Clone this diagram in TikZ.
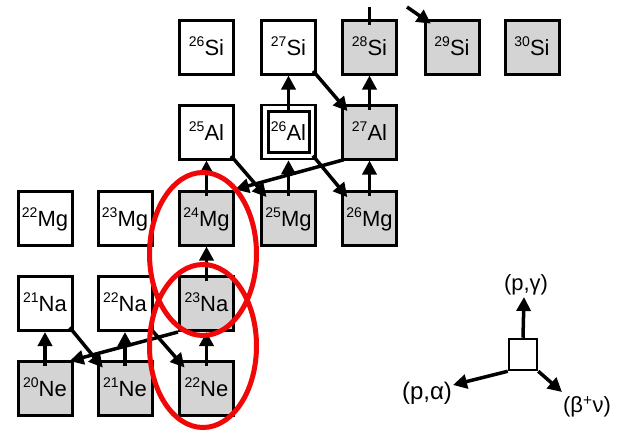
\documentclass[tikz,border=0pt]{standalone}
\usepackage{fontspec}
\setmainfont{Liberation Sans}
\usetikzlibrary{arrows.meta}
\definecolor{boxgray}{RGB}{212,212,212}
\definecolor{ringred}{RGB}{240,8,8}
% mass number as a raised prefix, then the element symbol
\newcommand{\iso}[2]{\raisebox{9pt}{\fontsize{14}{14}\selectfont #1}#2}
\begin{document}
\begin{tikzpicture}[x=1pt,y=-1pt,
  nuc/.style={draw=black, line width=3pt, minimum width=54pt, minimum height=54pt,
    inner sep=0pt, font=\fontsize{22}{22}\selectfont, text height=16pt, text depth=0pt},
  stable/.style={nuc, fill=boxgray},
  unstable/.style={nuc, fill=white},
  rx/.style={line width=3.5pt, -{Triangle[length=14pt,width=14pt]}},
  upr/.style={rx, shorten <=-6pt},
  betar/.style={rx, shorten <=-6pt, shorten >=-10pt},
  ring/.style={draw=ringred, line width=5pt},
  lbl/.style={font=\fontsize{22}{22}\selectfont, inner sep=0pt}
]
\useasboundingbox[fill=white] (0,0) rectangle (625,434);

% ---- Ne row
\node[stable]   (ne20) at (45,388.5)    {\iso{20}{Ne}};
\node[stable]   (ne21) at (125,388.5)   {\iso{21}{Ne}};
\node[stable]   (ne22) at (206.5,388.5) {\iso{22}{Ne}};
% ---- Na row
\node[unstable] (na21) at (45,303.5)    {\iso{21}{Na}};
\node[unstable] (na22) at (125,303.5)   {\iso{22}{Na}};
\node[stable]   (na23) at (206.5,303.5) {\iso{23}{Na}};
% ---- Mg row
\node[unstable] (mg22) at (45,218)      {\iso{22}{Mg}};
\node[unstable] (mg23) at (125,218)     {\iso{23}{Mg}};
\node[stable]   (mg24) at (206.5,218)   {\iso{24}{Mg}};
\node[stable]   (mg25) at (288.5,218)   {\iso{25}{Mg}};
\node[stable]   (mg26) at (369.5,218)   {\iso{26}{Mg}};
% ---- Al row
\node[unstable] (al25) at (206.5,132)   {\iso{25}{Al}};
\node[unstable, line width=2.5pt] (al26) at (288.5,132) {};
\draw[line width=3pt, fill=white] (al26.center) ++(-20.5,-20.5) rectangle ++(41,41);
\node[inner sep=0pt, font=\fontsize{22}{22}\selectfont, text height=16pt, text depth=0pt]
  (al26t) at (al26.center) {\iso{26}{Al}};
\node[stable]   (al27) at (369.5,132)   {\iso{27}{Al}};
% ---- Si row
\node[unstable] (si26) at (206.5,47)    {\iso{26}{Si}};
\node[unstable] (si27) at (288.5,47)    {\iso{27}{Si}};
\node[stable]   (si28) at (369.5,47)    {\iso{28}{Si}};
\node[stable]   (si29) at (452,47)      {\iso{29}{Si}};
\node[stable]   (si30) at (532,47)      {\iso{30}{Si}};

% ---- (p,gamma) captures
\draw[upr] (ne20.north) -- (na21.south);
\draw[upr] (ne21.north) -- (na22.south);
\draw[upr] (ne22.north) -- (na23.south);
\draw[upr] (na23.north) -- (mg24.south);
\draw[upr] (mg24.north) -- (al25.south);
\draw[upr] (mg25.north) -- (al26.south);
\draw[upr] (mg26.north) -- (al27.south);
\draw[upr] (al26.north) -- (si27.south);
\draw[upr] (al27.north) -- (si28.south);
% ---- beta+ decays
\draw[betar] (na21.south east) -- (ne21.north west);
\draw[betar] (na22.south east) -- (ne22.north west);
\draw[betar] (al25.south east) -- (mg25.north west);
\draw[betar] (al26.south east) -- (mg26.north west);
\draw[betar] (si27.south east) -- (al27.north west);
% ---- (p,alpha) cycling back
\draw[rx, shorten >=-4pt] (na23.south west) -- (ne20.north east);
\draw[rx, shorten <=-3pt] (al27.south west) -- (mg24.north east);
% ---- flow leaving and entering from above
\coordinate (topout) at (369.5,7);
\coordinate (topin)  at (407,7);
\draw[line width=3.5pt, shorten <=-6pt] (si28.north) -- (topout);
\draw[rx, shorten >=-9pt] (topin) -- (si29.north west);

% ---- key
\node[draw=black, line width=2.5pt, fill=white, minimum width=28pt, minimum height=31pt]
  (key) at (523,354.5) {};
\coordinate (kpg) at (524,297);
\coordinate (kpa) at (453,385);
\coordinate (kbn) at (562,392);
\draw[rx] (key.north) -- (kpg);
\draw[rx] (key.south west) -- (kpa);
\draw[rx] (key.south east) -- (kbn);
\node[lbl] (lpg) at (526,285) {(p,γ)};
\node[lbl, font=\fontsize{24}{24}\selectfont] (lpa) at (427,393) {(p,α)};
\node[lbl] (lbn) at (587,407) {(β\textsuperscript{+}ν)};

% ---- highlighted pairs
\draw[ring] (203,254) ellipse (53.5 and 81.5);
\draw[ring] (203,346) ellipse (53.5 and 81.5);
\end{tikzpicture}
\end{document}
